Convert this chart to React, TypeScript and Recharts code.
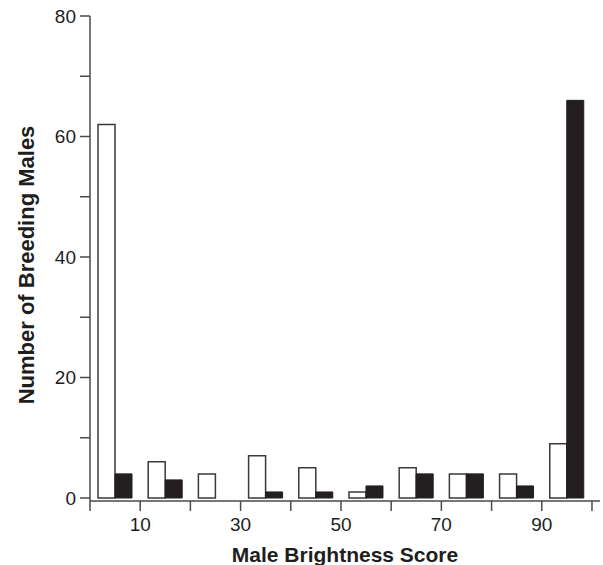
import React from 'react';
import { BarChart, Bar, XAxis, YAxis, Label } from 'recharts';

const binCenters = [5, 15, 25, 35, 45, 55, 65, 75, 85, 95];
const whiteSeries = [62, 6, 4, 7, 5, 1, 5, 4, 4, 9];
const blackSeries = [4, 3, 0, 1, 1, 2, 4, 4, 2, 66];
const xTicks = [0, 10, 20, 30, 40, 50, 60, 70, 80, 90, 100];
const xLabeled = [10, 30, 50, 70, 90];
const yTicks = [0, 10, 20, 30, 40, 50, 60, 70, 80];
const yLabeled = [0, 20, 40, 60, 80];

const data = binCenters.map((x, i) => ({ x, white: whiteSeries[i], black: blackSeries[i] }));

const FONT = '"Liberation Sans", Arial, Helvetica, sans-serif';
const AXIS = '#4a4a4a';

export default function App() {
  return (
    <div style={{ position: 'absolute', left: 0, top: 0, background: '#fff' }}>
      <BarChart
        width={603}
        height={565}
        data={data}
        margin={{ top: 16, right: 3, bottom: 0, left: 0 }}
        barGap={0}
        barSize={17}
        style={{ fontFamily: FONT }}
      >
        <XAxis
          dataKey="x"
          type="number"
          domain={[0, 101.6]}
          ticks={xTicks}
          tickFormatter={(v: number) => (xLabeled.includes(v) ? String(v) : '')}
          allowDataOverflow
          height={64}
          tickSize={10}
          tickMargin={7}
          stroke={AXIS}
          strokeWidth={1.5}
          fontSize={19}
          tick={{ fill: '#1e1e1e', fontSize: 19, fontFamily: FONT }}
        >
          <Label
            value="Male Brightness Score"
            position="insideBottom"
            offset={3}
            style={{ fontSize: 21, fontWeight: 'bold', fill: '#1e1e1e', fontFamily: FONT }}
          />
        </XAxis>
        <YAxis
          type="number"
          domain={[-0.5, 80]}
          ticks={yTicks}
          tickFormatter={(v: number) => (yLabeled.includes(v) ? String(v) : '')}
          allowDataOverflow
          width={90}
          tickSize={10}
          tickMargin={4}
          stroke={AXIS}
          strokeWidth={1.5}
          fontSize={19}
          tick={{ fill: '#1e1e1e', fontSize: 19, fontFamily: FONT }}
        >
          <Label
            content={() => (
              <text
                x={34}
                y={265}
                transform="rotate(-90 34 265)"
                textAnchor="middle"
                style={{ fontSize: 22, fontWeight: 'bold', fill: '#1e1e1e', fontFamily: FONT }}
              >
                Number of Breeding Males
              </text>
            )}
          />
        </YAxis>
        <Bar dataKey="white" fill="#ffffff" stroke="#3a3a3a" strokeWidth={1.5} isAnimationActive={false} />
        <Bar dataKey="black" fill="#231f20" stroke="#231f20" strokeWidth={1} isAnimationActive={false} />
      </BarChart>
    </div>
  );
}
